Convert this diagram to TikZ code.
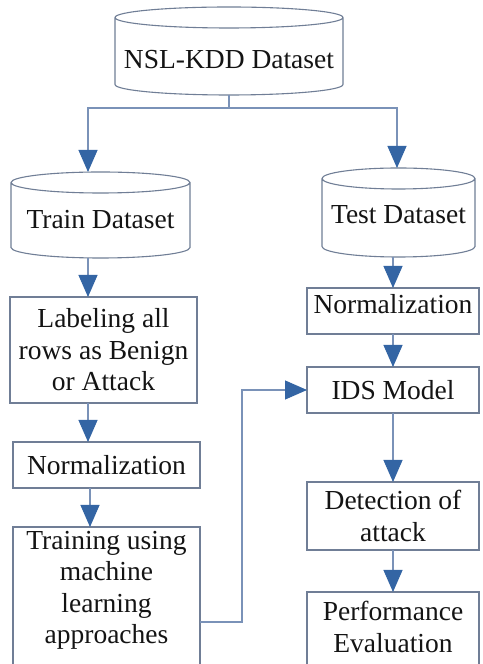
\documentclass[tikz,border=0pt]{standalone}
\usepackage{fontspec}
\setmainfont{Liberation Serif}
\usetikzlibrary{arrows.meta,calc}
\definecolor{boxgrey}{RGB}{112,126,150}
\definecolor{lineblue}{RGB}{122,146,184}
\definecolor{tipblue}{RGB}{52,101,164}
\definecolor{txt}{RGB}{20,20,20}
\newcommand\drawcyl[2]{%
  \draw[boxline] let \p1=(#1.north west), \p2=(#1.south east), \n1={(\x2-\x1)/2} in
    ({\x1},{\y1-#2}) arc[start angle=180, end angle=540, x radius={\n1*1pt}, y radius=#2]
    ({\x1},{\y1-#2}) -- ({\x1},{\y2+#2}) arc[start angle=180, end angle=360, x radius={\n1*1pt}, y radius=#2] -- ({\x2},{\y1-#2});}
\tikzset{
  boxline/.style={draw=boxgrey, line width=1.1pt},
  cylnode/.style={inner sep=0pt, outer sep=0pt, text=txt, font=\fontsize{27.5}{31.5}\selectfont},
  box/.style={boxline, inner sep=0pt, outer sep=0pt, align=center, text=txt, font=\fontsize{27.5}{31.5}\selectfont},
  txtnode/.style={inner sep=0pt, align=center, text=txt, font=\fontsize{27.5}{31.5}\selectfont},
  conn/.style={draw=lineblue, line width=1.1pt, -{Triangle[length=22pt,width=19pt,color=tipblue]}},
  plainconn/.style={draw=lineblue, line width=1.1pt}
}
\begin{document}
\begin{tikzpicture}[x=1pt,y=1pt]
\useasboundingbox (0,0) rectangle (482,664);
\fill[white] (0,0) rectangle (482,664);
\begin{scope}
\clip (0,0) rectangle (482,664);
% cylinders
\node[cylnode, minimum width=228pt, minimum height=88pt] (nsl) at (229,613) {\raisebox{-9pt}[\height][\depth]{NSL-KDD Dataset}};
\drawcyl{nsl}{10.5pt}
\node[cylnode, minimum width=179pt, minimum height=86pt] (traincyl) at (100.5,449) {\raisebox{-5pt}[\height][\depth]{Train Dataset}};
\drawcyl{traincyl}{10.5pt}
\node[cylnode, minimum width=153pt, minimum height=89pt] (testcyl) at (398.5,451.5) {\raisebox{-2.5pt}[\height][\depth]{Test Dataset}};
\drawcyl{testcyl}{10.5pt}
% left column
\node[box, minimum width=187pt, minimum height=106pt] (lab) at (103.5,314) {Labeling all\\rows as Benign\\or Attack};
\node[box, minimum width=187pt, minimum height=46pt] (norm1) at (106.5,199) {Normalization};
\node[box, minimum width=187pt, minimum height=163pt] (train) at (106.5,55.5) {};
\node[txtnode] (traintxt) at (106.5,73.5) {Training using\\machine\\learning\\approaches};
% right column
\node[box, minimum width=172pt, minimum height=46pt] (tnorm) at (393,353) {\raisebox{7pt}[\height][\depth]{Normalization}};
\node[box, minimum width=172pt, minimum height=46pt] (ids) at (393,274) {IDS Model};
\node[box, minimum width=172pt, minimum height=68pt] (det) at (393,148) {Detection of\\attack};
\node[box, minimum width=172pt, minimum height=98pt] (perf) at (393,23) {};
\node[txtnode] (perftxt) at (393,37) {Performance\\Evaluation};
% helper coordinates
\coordinate (split) at (229,556);
\coordinate (lx) at (88,0);
\coordinate (lx2) at (90,0);
\coordinate (rx) at (397,0);
\coordinate (fb) at (242,42);
% connectors
\draw[plainconn] (nsl.south) -- (split);
\draw[conn] (split) -| (traincyl.north -| lx);
\draw[conn] (split) -| (testcyl.north -| rx);
\draw[conn] (traincyl.south -| lx) -- (lab.north -| lx);
\draw[conn] (lab.south -| lx) -- (norm1.north -| lx);
\draw[conn] (norm1.south -| lx2) -- (train.north -| lx2);
\draw[conn] (train.east |- fb) -- (fb) |- (ids.west);
\draw[conn] (testcyl.south -| tnorm.north) -- (tnorm.north);
\draw[conn] (tnorm.south) -- (ids.north);
\draw[conn] (ids.south) -- (det.north);
\draw[conn] (det.south) -- (perf.north);
\end{scope}
\end{tikzpicture}
\end{document}
